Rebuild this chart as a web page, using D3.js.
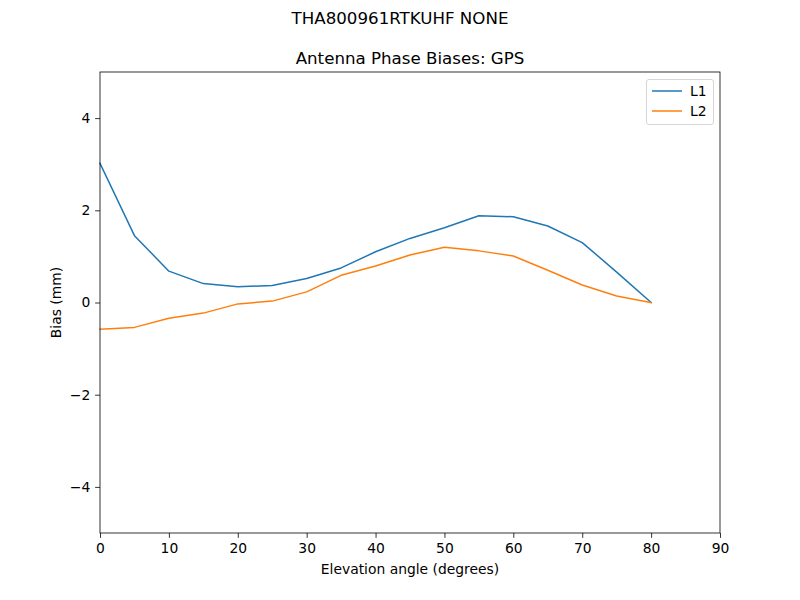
<!DOCTYPE html>
<html><head><meta charset="utf-8">
<script src="https://cdn.jsdelivr.net/npm/d3@7"></script>
<style>body{margin:0;background:#fff}text{font-family:"DejaVu Sans",sans-serif}</style>
</head><body><svg id="c" width="800" height="600"></svg>
<script>
const elev = [0,5,10,15,20,25,30,35,40,45,50,55,60,65,70,75,80];
const l1 = [3.02,1.45,0.68,0.41,0.34,0.37,0.52,0.75,1.10,1.39,1.62,1.88,1.86,1.66,1.30,0.66,0.0];
const l2 = [-0.58,-0.54,-0.34,-0.23,-0.03,0.03,0.23,0.59,0.79,1.03,1.20,1.12,1.01,0.70,0.38,0.14,0.0];
const xTicks = [0,10,20,30,40,50,60,70,80,90];
const yTicks = [-4,-2,0,2,4];
const seriesNames = ["L1","L2"];
const colors = ["#1f77b4","#ff7f0e"];

const svg = d3.select("#c");
const L=100,R=720,T=72,B=533;
const x = d3.scaleLinear().domain([0,90]).range([L,R]);
const y = d3.scaleLinear().domain([-5,5]).range([B,T]);

const fmt = d => d<0 ? "\u2212"+Math.abs(d) : String(d);
const xa = svg.append("g").attr("transform",`translate(0,${B})`)
  .call(d3.axisBottom(x).tickValues(xTicks).tickSize(4.86).tickPadding(4.86).tickFormat(fmt));
const ya = svg.append("g").attr("transform",`translate(${L},0)`)
  .call(d3.axisLeft(y).tickValues(yTicks).tickSize(4.86).tickPadding(4.86).tickFormat(fmt));
[xa,ya].forEach(a=>{a.select(".domain").remove();a.selectAll("text").attr("font-size",13.89).attr("fill","#000").style("font-family","DejaVu Sans");a.selectAll("line").attr("stroke","#000").attr("stroke-width",0.8);});

const line = d3.line().x((d,i)=>x(elev[i])).y(d=>y(d));
[l1,l2].forEach((s,k)=>{
  svg.append("path").attr("d",line(s)).attr("fill","none").attr("stroke",colors[k]).attr("stroke-width",1.5).attr("stroke-linejoin","round").attr("stroke-linecap","square");
});
svg.append("rect").attr("x",L).attr("y",T).attr("width",R-L).attr("height",B-T).attr("fill","none").attr("stroke","#000").attr("stroke-width",0.8);

svg.append("text").attr("x",400).attr("y",24).attr("text-anchor","middle").attr("font-size",16.67).text("THA800961RTKUHF NONE");
svg.append("text").attr("x",410).attr("y",64).attr("text-anchor","middle").attr("font-size",16.67).text("Antenna Phase Biases: GPS");
svg.append("text").attr("x",410).attr("y",574).attr("text-anchor","middle").attr("font-size",13.89).text("Elevation angle (degrees)");
svg.append("text").attr("transform",`translate(61,${(T+B)/2}) rotate(-90)`).attr("text-anchor","middle").attr("font-size",13.89).text("Bias (mm)");

const lg = svg.append("g");
lg.append("rect").attr("x",646.5).attr("y",79.5).attr("width",67).attr("height",45).attr("rx",2.5).attr("fill","#fff").attr("fill-opacity",0.8).attr("stroke","#ccc").attr("stroke-width",0.8);
seriesNames.forEach((n,k)=>{
  const yy = 91+k*20;
  lg.append("line").attr("x1",652).attr("x2",682).attr("y1",yy).attr("y2",yy).attr("stroke",colors[k]).attr("stroke-width",1.5);
  lg.append("text").attr("x",690).attr("y",yy+5).attr("font-size",13.89).text(n);
});
</script></body></html>
